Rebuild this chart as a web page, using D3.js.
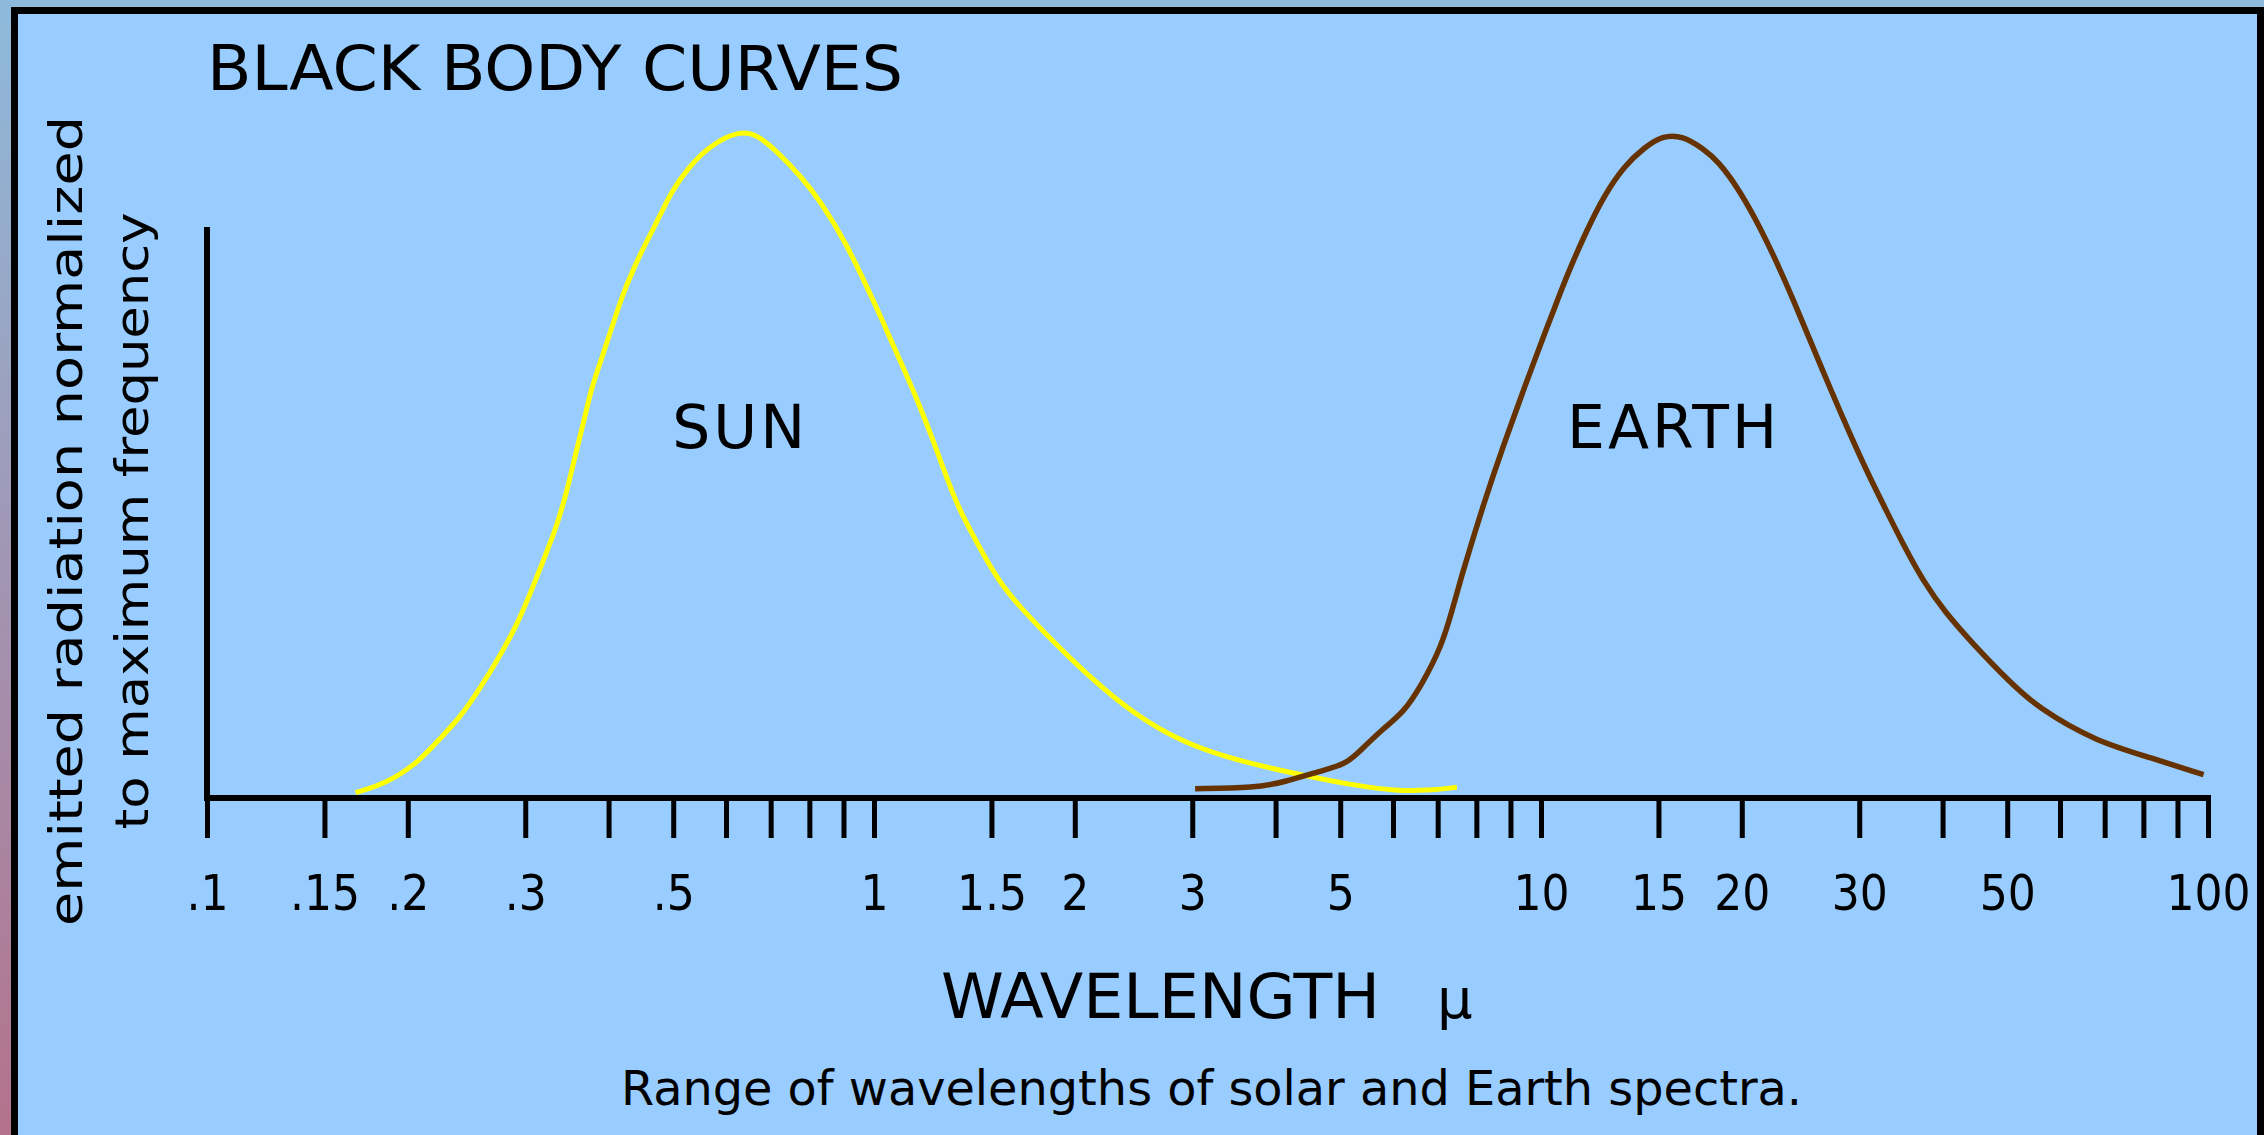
<!doctype html>
<html lang="en">
	<head>
		<meta charset="utf-8" />
		<title>Black body curves</title>
		<script src="https://cdn.jsdelivr.net/npm/d3@7"></script>
		<style>
			body { margin: 0; overflow: hidden; }
			text { font-family: "DejaVu Sans", Verdana, sans-serif; fill: #000; }
		</style>
	</head>
	<body>
		<script>
			// wavelengths in microns, intensity normalized to the peak
			var sunWavelength = [0.167, 0.185, 0.206, 0.221, 0.240, 0.258, 0.273, 0.290, 0.304, 0.319, 0.335, 0.347,
				0.357, 0.368, 0.377, 0.391, 0.405, 0.420, 0.435, 0.451, 0.473, 0.496, 0.526, 0.572, 0.629, 0.667,
				0.716, 0.779, 0.836, 0.909, 0.976, 1.017, 1.086, 1.162, 1.241, 1.326, 1.416, 1.553, 1.796, 2.105,
				2.466, 2.929, 3.571, 4.352, 5.307, 6.056, 6.733, 7.482];
			var sunIntensity = [0.008, 0.021, 0.051, 0.084, 0.121, 0.168, 0.208, 0.255, 0.302, 0.355, 0.409, 0.463,
				0.516, 0.568, 0.615, 0.660, 0.707, 0.755, 0.791, 0.825, 0.864, 0.908, 0.945, 0.981, 1.000, 0.995,
				0.969, 0.931, 0.891, 0.831, 0.766, 0.728, 0.663, 0.597, 0.523, 0.442, 0.389, 0.315, 0.249, 0.181,
				0.124, 0.081, 0.054, 0.035, 0.018, 0.011, 0.011, 0.016];

			var earthWavelength = [3.03, 3.73, 4.12, 4.66, 5.10, 5.32, 5.81, 6.22, 6.62, 7.10, 7.36, 7.62, 7.90,
				8.19, 8.48, 8.79, 9.11, 9.44, 9.79, 10.14, 10.51, 10.76, 11.15, 11.70, 12.41, 13.33, 14.32, 15.19,
				16.32, 17.52, 18.43, 19.86, 21.37, 22.74, 23.91, 25.13, 27.40, 29.16, 31.02, 33.01, 35.13, 37.38,
				40.29, 44.43, 50.30, 55.61, 67.86, 81.73, 98.49];
			var earthIntensity = [0.014, 0.015, 0.024, 0.040, 0.051, 0.068, 0.105, 0.128, 0.169, 0.228, 0.282,
				0.336, 0.388, 0.438, 0.484, 0.529, 0.572, 0.615, 0.657, 0.698, 0.738, 0.765, 0.803, 0.850, 0.902,
				0.948, 0.976, 0.993, 0.993, 0.973, 0.955, 0.911, 0.853, 0.796, 0.746, 0.694, 0.604, 0.542, 0.483,
				0.429, 0.375, 0.326, 0.279, 0.231, 0.175, 0.135, 0.085, 0.061, 0.035];

			var tickValues = [0.1, 0.15, 0.2, 0.3, 0.4, 0.5, 0.6, 0.7, 0.8, 0.9, 1, 1.5, 2, 3, 4, 5, 6, 7, 8, 9,
				10, 15, 20, 30, 40, 50, 60, 70, 80, 90, 100];
			var labelledTicks = [0.1, 0.15, 0.2, 0.3, 0.5, 1, 1.5, 2, 3, 5, 10, 15, 20, 30, 50, 100];
			var tickLabels = [".1", ".15", ".2", ".3", ".5", "1", "1.5", "2", "3", "5", "10", "15", "20", "30", "50", "100"];

			var curveNames = ["SUN", "EARTH"];
			var curveLabelAt = [[0.63, 0.525], [15.8, 0.525]];

			var W = 2264, H = 1135;
			var panelColor = "#99CCFF";
			var sunColor = "#FFFF00";
			var earthColor = "#663300";

			var svg = d3.select("body").append("svg")
				.attr("width", W)
				.attr("height", H);

			// outer backdrop + black frame
			var grad = svg.append("defs").append("linearGradient")
				.attr("id", "backdrop")
				.attr("x1", 0).attr("y1", 0).attr("x2", 0).attr("y2", 1);
			grad.append("stop").attr("offset", "0%").attr("stop-color", "#8EBADB");
			grad.append("stop").attr("offset", "100%").attr("stop-color", "#B4728C");

			svg.append("rect").attr("width", W).attr("height", H).attr("fill", "url(#backdrop)");
			svg.append("rect").attr("x", 11).attr("y", 7).attr("width", W - 11).attr("height", H).attr("fill", "#000");
			svg.append("rect").attr("x", 18).attr("y", 14).attr("width", 2257 - 18).attr("height", H).attr("fill", panelColor);

			var x = d3.scaleLog().domain([0.1, 100]).range([207, 2208]);
			var y = d3.scaleLinear().domain([0, 1]).range([798, 131]);

			// x axis
			var xAxis = d3.axisBottom(x)
				.tickValues(tickValues)
				.tickSize(40)
				.tickSizeOuter(0)
				.tickFormat(function(d) {
					var i = labelledTicks.indexOf(d);
					return i < 0 ? "" : tickLabels[i];
				});

			var gx = svg.append("g")
				.attr("transform", "translate(0," + y(0) + ")")
				.call(xAxis);
			gx.select(".domain").attr("stroke", "#000").attr("stroke-width", 6)
				.attr("d", "M" + x(0.1) + ",0H" + (x(100) + 3));
			gx.selectAll(".tick line").attr("stroke", "#000").attr("stroke-width", 5);
			gx.selectAll(".tick text")
				.attr("y", 112)
				.attr("dy", 0)
				.attr("fill", "#000")
				.style("font-family", "'DejaVu Sans', sans-serif")
				.style("font-stretch", "condensed")
				.style("font-size", "49px");

			// y axis: plain line, no ticks
			svg.append("line")
				.attr("x1", x(0.1)).attr("x2", x(0.1))
				.attr("y1", 227).attr("y2", y(0) + 3)
				.attr("stroke", "#000").attr("stroke-width", 6);

			// curves
			var line = d3.line()
				.x(function(d) { return x(d[0]); })
				.y(function(d) { return y(d[1]); })
				.curve(d3.curveBasis);

			var sunData = d3.zip(sunWavelength, sunIntensity);
			var earthData = d3.zip(earthWavelength, earthIntensity);

			svg.append("path").datum(sunData)
				.attr("d", line)
				.attr("fill", "none")
				.attr("stroke", sunColor)
				.attr("stroke-width", 5);

			svg.append("path").datum(earthData)
				.attr("d", line)
				.attr("fill", "none")
				.attr("stroke", earthColor)
				.attr("stroke-width", 5.5);

			// curve names
			svg.selectAll("text.curve-name")
				.data(curveNames)
				.enter()
				.append("text")
				.attr("class", "curve-name")
				.attr("x", function(d, i) { return x(curveLabelAt[i][0]); })
				.attr("y", function(d, i) { return y(curveLabelAt[i][1]); })
				.attr("text-anchor", "middle")
				.style("font-size", "60px")
				.style("letter-spacing", "3px")
				.text(function(d) { return d; });

			// title
			svg.append("text")
				.attr("x", 207).attr("y", 90)
				.attr("textLength", 696).attr("lengthAdjust", "spacingAndGlyphs")
				.style("font-size", "62px")
				.text("BLACK BODY CURVES");

			// y label, two lines
			svg.append("text")
				.attr("transform", "translate(82,521) rotate(-90)")
				.attr("text-anchor", "middle")
				.attr("textLength", 810).attr("lengthAdjust", "spacingAndGlyphs")
				.style("font-size", "47px")
				.text("emitted radiation normalized");
			svg.append("text")
				.attr("transform", "translate(148,521) rotate(-90)")
				.attr("text-anchor", "middle")
				.attr("textLength", 617).attr("lengthAdjust", "spacingAndGlyphs")
				.style("font-size", "47px")
				.text("to maximum frequency");

			// x label
			svg.append("text")
				.attr("x", 941).attr("y", 1018)
				.attr("textLength", 439).attr("lengthAdjust", "spacingAndGlyphs")
				.style("font-size", "62px")
				.text("WAVELENGTH");
			svg.append("text")
				.attr("x", 1437).attr("y", 1018)
				.style("font-size", "56px")
				.text("μ");

			// caption
			svg.append("text")
				.attr("x", 621).attr("y", 1105)
				.attr("textLength", 1181).attr("lengthAdjust", "spacingAndGlyphs")
				.style("font-size", "48px")
				.text("Range of wavelengths of solar and Earth spectra.");
		</script>
	</body>
</html>
